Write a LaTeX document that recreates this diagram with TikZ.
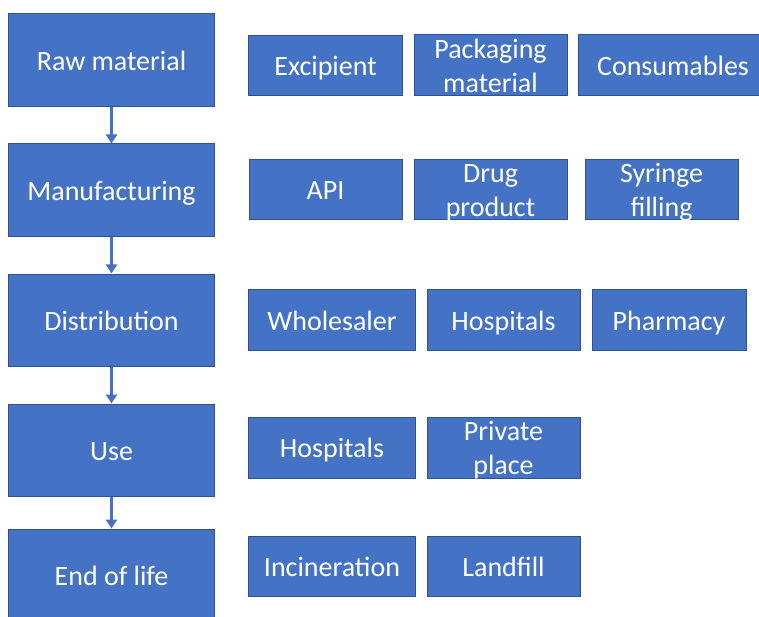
\documentclass[tikz,border=0pt]{standalone}
\usepackage{fontspec}
\setmainfont{Carlito}
\usetikzlibrary{arrows.meta}
\definecolor{blu}{HTML}{4472C4}
\definecolor{bdr}{HTML}{2F528F}
\newcommand\mystrut{\rule[-6pt]{0pt}{32pt}}
\begin{document}
\begin{tikzpicture}[x=1pt,y=-1pt,
  txt/.style={text=white, inner sep=0pt, align=center, font=\fontsize{28}{34}\selectfont},
  box/.style={txt, draw=bdr, fill=blu, line width=1pt},
  arr/.style={draw=blu, line width=3pt, -{Triangle[width=11pt,length=9pt]}}]
\useasboundingbox (0,0) rectangle (759,617);
\clip (0,0) rectangle (759,617);
% left column
\node[box, minimum width=206pt, minimum height=93pt] (raw) at (111.5,60.5) {\mystrut Raw material};
\node[box, minimum width=206pt, minimum height=93pt] (man) at (111.5,190.5) {\mystrut Manufacturing};
\node[box, minimum width=206pt, minimum height=92pt] (dis) at (111.5,320) {\mystrut Distribution};
\node[box, minimum width=206pt, minimum height=92pt] (use) at (111.5,450) {\mystrut Use};
\node[box, minimum width=206pt, minimum height=92pt] (eol) at (111.5,575) {\mystrut End of life};
\draw[arr] (raw.south) -- (man.north);
\draw[arr] (man.south) -- (dis.north);
\draw[arr] (dis.south) -- (use.north);
\draw[arr] (use.south) -- (eol.north);
% row 1
\node[box, minimum width=154pt, minimum height=60pt] (exc) at (325.5,66) {\mystrut Excipient};
\node[box, minimum width=153pt, minimum height=61pt] (pkg) at (490.5,65.5) {};
\node[txt] (pkgt) at (pkg.center) {\mystrut Packaging\\\mystrut material};
\node[box, minimum width=190pt, minimum height=61pt] (con) at (673,65.5) {\mystrut Consumables};
% row 2
\node[box, minimum width=153pt, minimum height=60pt] (api) at (325.5,190) {\mystrut API};
\node[box, minimum width=153pt, minimum height=60pt] (drg) at (490.5,190) {};
\node[txt] (drgt) at (drg.center) {\mystrut Drug\\\mystrut product};
\node[box, minimum width=153pt, minimum height=60pt] (syr) at (661.5,190) {};
\node[txt] (syrt) at (syr.center) {\mystrut Syringe\\\mystrut filling};
% row 3
\node[box, minimum width=167pt, minimum height=61pt] (whl) at (332,320) {\mystrut Wholesaler};
\node[box, minimum width=153pt, minimum height=61pt] (hos1) at (503.5,320) {\mystrut Hospitals};
\node[box, minimum width=154pt, minimum height=61pt] (phm) at (669,320) {\mystrut Pharmacy};
% row 4
\node[box, minimum width=167pt, minimum height=61pt] (hos2) at (332,447.5) {\mystrut Hospitals};
\node[box, minimum width=153pt, minimum height=61pt] (prv) at (503.5,447.5) {};
\node[txt] (prvt) at (prv.center) {\mystrut Private\\\mystrut place};
% row 5
\node[box, minimum width=167pt, minimum height=60pt] (inc) at (332,566) {\mystrut Incineration};
\node[box, minimum width=153pt, minimum height=60pt] (lnd) at (503.5,566) {\mystrut Landfill};
\end{tikzpicture}
\end{document}
